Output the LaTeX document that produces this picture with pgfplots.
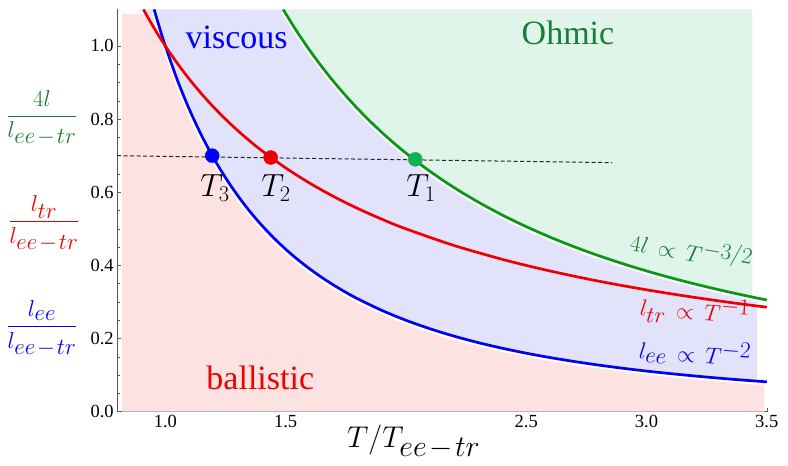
\RequirePackage{fix-cm}
\documentclass[border=0pt]{standalone}
\usepackage{pgfplots}
\pgfplotsset{compat=1.18}
\usepackage{fontspec}
\setmainfont{Liberation Serif}
\definecolor{lgreen}{RGB}{10,150,20}
\definecolor{dgreen}{RGB}{20,175,85}
\definecolor{tgreen}{RGB}{25,125,55}
\definecolor{lred}{RGB}{238,0,0}
\definecolor{lblue}{RGB}{0,0,245}
\definecolor{cpink}{RGB}{253,226,226}
\definecolor{clav}{RGB}{226,226,250}
\definecolor{cmint}{RGB}{224,245,234}
\newcommand{\ts}{\textstyle}
\newcommand{\eetr}{\textstyle ee\mkern1.5mu{-}\mkern1.5mu tr}
\newcommand{\pr}{\mkern3mu\propto\mkern3mu}
\begin{document}
\begin{tikzpicture}
\path[use as bounding box] (-117.2pt,-54.3pt) rectangle (670.8pt,411.7pt);
\begin{axis}[
  at={(0pt,0pt)}, anchor=south west,
  scale only axis, width=649.6pt, height=402.3pt,
  xmin=0.8, xmax=3.5, ymin=0, ymax=1.1,
  axis lines=left, axis line style={-, draw=black!65, line width=0.8pt},
  tick align=inside, tick style={black!65, line width=0.6pt},
  major tick length=4pt, minor tick length=2.5pt,
  xtick={1.0,1.5,2.0,2.5,3.0,3.5},
  xticklabels={1.0,1.5,,2.5,3.0,3.5},
  ytick={0,0.2,0.4,0.6,0.8,1.0},
  yticklabels={0.0,0.2,0.4,0.6,0.8,1.0},
  minor x tick num=4, minor y tick num=3,
  ticklabel style={font=\rmfamily\fontsize{18.5}{18.5}\selectfont},
  /pgf/number format/assume math mode=true,
]
% ballistic region
\addplot[fill=cpink, draw=none] coordinates {
 (0.82,0) (0.82,1.087) (0.92,1.087) (0.95,1.0526) (1.0,1.0)
 (1.05,0.9070) (1.10,0.8264) (1.15,0.7561) (1.20,0.6944) (1.25,0.64) (1.30,0.5917)
 (1.35,0.5487) (1.40,0.5102) (1.45,0.4756) (1.50,0.4444) (1.55,0.4162) (1.60,0.3906)
 (1.65,0.3673) (1.70,0.3460) (1.75,0.3265) (1.80,0.3086) (1.90,0.2770) (2.00,0.25)
 (2.10,0.2268) (2.20,0.2066) (2.30,0.1890) (2.40,0.1736) (2.50,0.16) (2.60,0.1479)
 (2.70,0.1372) (2.80,0.1276) (2.90,0.1189) (3.00,0.1111) (3.10,0.1041) (3.20,0.0977)
 (3.30,0.0918) (3.40,0.0865) (3.49,0.0821) (3.49,0) } -- cycle;
% viscous region
\addplot[fill=clav, draw=none] coordinates {
 (0.909,1.1) (0.95,1.0526) (1.0,1.0)
 (1.05,0.9070) (1.10,0.8264) (1.15,0.7561) (1.20,0.6944) (1.25,0.64) (1.30,0.5917)
 (1.35,0.5487) (1.40,0.5102) (1.45,0.4756) (1.50,0.4444) (1.55,0.4162) (1.60,0.3906)
 (1.65,0.3673) (1.70,0.3460) (1.75,0.3265) (1.80,0.3086) (1.90,0.2770) (2.00,0.25)
 (2.10,0.2268) (2.20,0.2066) (2.30,0.1890) (2.40,0.1736) (2.50,0.16) (2.60,0.1479)
 (2.70,0.1372) (2.80,0.1276) (2.90,0.1189) (3.00,0.1111) (3.10,0.1041) (3.20,0.0977)
 (3.30,0.0918) (3.40,0.0865) (3.46,0.0835)
 (3.46,0.3095) (3.40,0.3190) (3.30,0.3336) (3.20,0.3494) (3.10,0.3664) (3.00,0.3849)
 (2.90,0.4050) (2.80,0.4269) (2.70,0.4508) (2.60,0.4771) (2.50,0.5060) (2.40,0.5379)
 (2.30,0.5734) (2.20,0.6129) (2.10,0.6572) (2.00,0.7071) (1.95,0.7345) (1.90,0.7637)
 (1.85,0.7948) (1.80,0.8282) (1.75,0.8639) (1.70,0.9023) (1.65,0.9436) (1.60,0.9882)
 (1.55,1.0364) (1.49,1.0996) } -- cycle;
% Ohmic region
\addplot[fill=cmint, draw=none] coordinates {
 (1.49,1.1) (1.55,1.0364) (1.60,0.9882) (1.65,0.9436) (1.70,0.9023) (1.75,0.8639)
 (1.80,0.8282) (1.85,0.7948) (1.90,0.7637) (1.95,0.7345) (2.00,0.7071) (2.10,0.6572)
 (2.20,0.6129) (2.30,0.5734) (2.40,0.5379) (2.50,0.5060) (2.60,0.4771) (2.70,0.4508)
 (2.80,0.4269) (2.90,0.4050) (3.00,0.3849) (3.10,0.3664) (3.20,0.3494) (3.30,0.3336)
 (3.44,0.3135) (3.44,1.1) } -- cycle;
% white halos below green and blue curves
\addplot[white, line width=2.2pt, smooth, xshift=-1.2pt, yshift=-2.2pt] coordinates {
 (1.49,1.0996) (1.55,1.0364) (1.60,0.9882) (1.65,0.9436) (1.70,0.9023) (1.75,0.8639)
 (1.80,0.8282) (1.85,0.7948) (1.90,0.7637) (1.95,0.7345) (2.00,0.7071) (2.10,0.6572)
 (2.20,0.6129) (2.30,0.5734) (2.40,0.5379) (2.50,0.5060) (2.60,0.4771) (2.70,0.4508)
 (2.80,0.4269) (2.90,0.4050) (3.00,0.3849) (3.10,0.3664) (3.20,0.3494) (3.30,0.3336)
 (3.40,0.3190) (3.46,0.3095) };
\addplot[white, line width=2.2pt, smooth, xshift=-1.4pt, yshift=-2.2pt] coordinates {
 (0.9535,1.1) (0.96,1.0851) (0.98,1.0412) (1.0,1.0)
 (1.05,0.9070) (1.10,0.8264) (1.15,0.7561) (1.20,0.6944) (1.25,0.64) (1.30,0.5917)
 (1.35,0.5487) (1.40,0.5102) (1.45,0.4756) (1.50,0.4444) (1.55,0.4162) (1.60,0.3906)
 (1.65,0.3673) (1.70,0.3460) (1.75,0.3265) (1.80,0.3086) (1.90,0.2770) (2.00,0.25)
 (2.10,0.2268) (2.20,0.2066) (2.30,0.1890) (2.40,0.1736) (2.50,0.16) (2.60,0.1479)
 (2.70,0.1372) (2.80,0.1276) (2.90,0.1189) (3.00,0.1111) (3.10,0.1041) (3.20,0.0977)
 (3.30,0.0918) (3.40,0.0865) (3.49,0.0821) };
% dashed line
\addplot[black!85, line width=1pt, dash pattern=on 4pt off 2.5pt] coordinates {(0.8,0.70) (2.857,0.681)};
% blue l_ee
\addplot[lblue, line width=2.7pt, smooth] coordinates {
 (0.9535,1.1) (0.96,1.0851) (0.98,1.0412) (1.0,1.0)
 (1.05,0.9070) (1.10,0.8264) (1.15,0.7561) (1.20,0.6944) (1.25,0.64) (1.30,0.5917)
 (1.35,0.5487) (1.40,0.5102) (1.45,0.4756) (1.50,0.4444) (1.55,0.4162) (1.60,0.3906)
 (1.65,0.3673) (1.70,0.3460) (1.75,0.3265) (1.80,0.3086) (1.90,0.2770) (2.00,0.25)
 (2.10,0.2268) (2.20,0.2066) (2.30,0.1890) (2.40,0.1736) (2.50,0.16) (2.60,0.1479)
 (2.70,0.1372) (2.80,0.1276) (2.90,0.1189) (3.00,0.1111) (3.10,0.1041) (3.20,0.0977)
 (3.30,0.0918) (3.40,0.0865) (3.50,0.0816) };
% red l_tr
\addplot[lred, line width=2.7pt, smooth] coordinates {
 (0.909,1.1) (0.95,1.0526) (1.00,1.0) (1.05,0.9524) (1.10,0.9091) (1.15,0.8696)
 (1.20,0.8333) (1.25,0.8) (1.30,0.7692) (1.35,0.7407) (1.40,0.7143) (1.50,0.6667)
 (1.60,0.625) (1.70,0.5882) (1.80,0.5556) (1.90,0.5263) (2.00,0.5) (2.20,0.4545)
 (2.40,0.4167) (2.50,0.4) (2.60,0.3846) (2.70,0.3704) (2.80,0.3571) (2.90,0.3448)
 (3.00,0.3333) (3.10,0.3226) (3.20,0.3125) (3.30,0.3030) (3.40,0.2941) (3.50,0.2857) };
% green 4l
\addplot[lgreen, line width=2.7pt, smooth] coordinates {
 (1.49,1.0996) (1.55,1.0364) (1.60,0.9882) (1.65,0.9436) (1.70,0.9023) (1.75,0.8639)
 (1.80,0.8282) (1.85,0.7948) (1.90,0.7637) (1.95,0.7345) (2.00,0.7071) (2.10,0.6572)
 (2.20,0.6129) (2.30,0.5734) (2.40,0.5379) (2.50,0.5060) (2.60,0.4771) (2.70,0.4508)
 (2.80,0.4269) (2.90,0.4050) (3.00,0.3849) (3.10,0.3664) (3.20,0.3494) (3.30,0.3336)
 (3.40,0.3190) (3.50,0.3054) };
% points
\addplot[only marks, mark=*, mark size=7pt, lblue] coordinates {(1.195,0.700)};
\addplot[only marks, mark=*, mark size=7pt, lred] coordinates {(1.438,0.695)};
\addplot[only marks, mark=*, mark size=7pt, dgreen] coordinates {(2.039,0.690)};
\end{axis}
% region labels
\node[anchor=base, text=lblue, font=\fontsize{34}{34}\selectfont] at (119.5pt,362.7pt) {viscous};
\node[anchor=base, text=tgreen, font=\fontsize{34}{34}\selectfont] at (450.8pt,367pt) {Ohmic};
\node[anchor=base, text=lred, font=\fontsize{34}{34}\selectfont] at (143.1pt,22.4pt) {ballistic};
% T labels
\node[anchor=base, font=\fontsize{32}{32}\selectfont] at (97.8pt,214.7pt) {$T_3$};
\node[anchor=base, font=\fontsize{32}{32}\selectfont] at (158.8pt,214.7pt) {$T_2$};
\node[anchor=base, font=\fontsize{32}{32}\selectfont] at (303.8pt,214.7pt) {$T_1$};
% curve labels
\node[rotate=-10, text=tgreen, font=\fontsize{23}{23}\selectfont] at (574.8pt,162.7pt) {$4l\pr T^{\ts -3/2}$};
\node[rotate=-4, text=lred, font=\fontsize{23}{23}\selectfont] at (577.8pt,100.7pt) {$l_{\ts tr}\pr T^{\ts -1}$};
\node[rotate=-4, text=lblue, font=\fontsize{23}{23}\selectfont] at (577.8pt,58.7pt) {$l_{\ts ee}\pr T^{\ts -2}$};
% x label
\node[anchor=base, font=\fontsize{30}{30}\selectfont] at (296.5pt,-36.3pt) {$T/T_{\eetr}$};
% y labels
\node[anchor=base, text=tgreen, font=\fontsize{23}{23}\selectfont] at (-75.2pt,290pt) {$\displaystyle\frac{4l}{l_{\eetr}}$};
\node[anchor=base, text=lred, font=\fontsize{23}{23}\selectfont] at (-73.2pt,184.3pt) {$\displaystyle\frac{l_{\ts tr}}{l_{\eetr}}$};
\node[anchor=base, text=lblue, font=\fontsize{23}{23}\selectfont] at (-75.2pt,79.3pt) {$\displaystyle\frac{l_{\ts ee}}{l_{\eetr}}$};
\end{tikzpicture}
\end{document}
